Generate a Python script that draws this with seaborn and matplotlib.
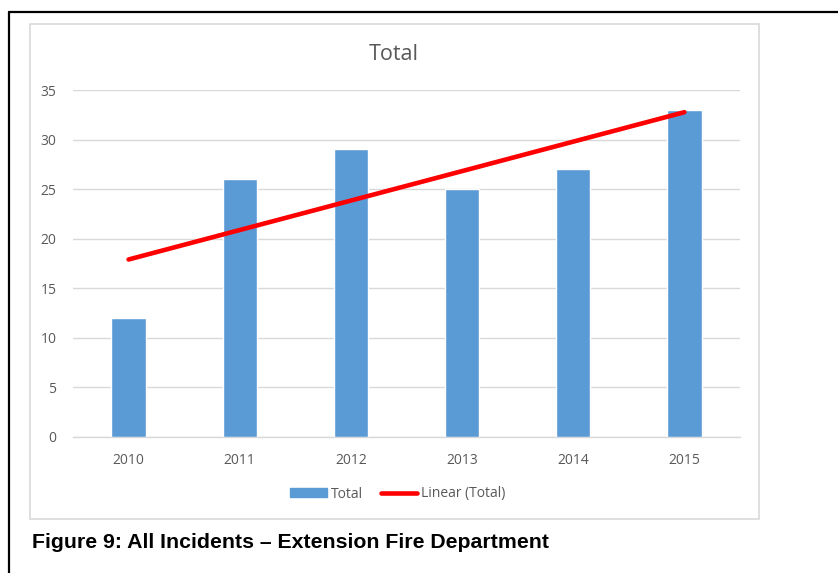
import numpy as np
import pandas as pd
import matplotlib
matplotlib.use("Agg")
import matplotlib.pyplot as plt
import matplotlib.patches as mpatches
from matplotlib.lines import Line2D
import seaborn as sns

years = ["2010", "2011", "2012", "2013", "2014", "2015"]
totals = [12, 26, 29, 25, 27, 33]
y_ticks = [0, 5, 10, 15, 20, 25, 30, 35]
title = "Total"
caption = "Figure 9: All Incidents \u2013 Extension Fire Department"
legend_labels = ["Total", "Linear (Total)"]

BAR = "#5B9BD5"
RED = "#FF0000"
GRID = "#D9D9D9"
TXT = "#595959"

sns.set_theme(style="white")
plt.rcParams["font.family"] = ["Open Sans", "DejaVu Sans"]

W, H = 838, 573
fig = plt.figure(figsize=(W / 100, H / 100), dpi=100)

def fx(px):
    return px / W

def fy(py):
    return 1 - py / H

# outer black border (top + left)
fig.add_artist(Line2D([fx(9), fx(838)], [fy(12), fy(12)], color="black", lw=1.6, transform=fig.transFigure))
fig.add_artist(Line2D([fx(9), fx(9)], [fy(12), fy(573)], color="black", lw=1.6, transform=fig.transFigure))
# chart area gray border
fig.add_artist(mpatches.Rectangle((fx(30), fy(519)), fx(759) - fx(30), fy(24) - fy(519),
                                  fill=False, edgecolor=GRID, lw=1.2, transform=fig.transFigure))

ax = fig.add_axes([fx(73), fy(437), fx(740) - fx(73), fy(90) - fy(437)])

df = pd.DataFrame({"year": years, "total": totals})
sns.barplot(data=df, x="year", y="total", color=BAR, saturation=1, width=0.31, ax=ax, zorder=3)

pos = np.arange(len(years))
slope, intercept = np.polyfit(pos + 1, np.array(totals, dtype=float), 1)
trend_x = [pos[0], pos[-1]]
trend_y = [slope * (pos[0] + 1) + intercept, slope * (pos[-1] + 1) + intercept]
sns.lineplot(x=trend_x, y=trend_y, color=RED, lw=3.3, ax=ax, zorder=4, solid_capstyle="round")

ax.set_xlim(-0.5, len(years) - 0.5)
ax.set_ylim(0, 35)
ax.set_yticks(y_ticks)
ax.set_yticklabels([str(v) for v in y_ticks])
ax.yaxis.grid(True, color=GRID, lw=1.0, zorder=0)
ax.set_axisbelow(True)
for s in ["top", "right", "left"]:
    ax.spines[s].set_visible(False)
ax.spines["bottom"].set_color(GRID)
ax.spines["bottom"].set_linewidth(1.0)
ax.tick_params(axis="both", length=0, colors=TXT, labelsize=10)
ax.tick_params(axis="y", pad=12)
ax.tick_params(axis="x", pad=11.5)
ax.set_xlabel("")
ax.set_ylabel("")
ax.set_facecolor("none")

fig.text(fx(394), fy(55), title, ha="center", va="center", fontsize=15.5, color=TXT)

handles = [mpatches.Patch(color=BAR), Line2D([0], [0], color=RED, lw=3.3, solid_capstyle="round")]
fig.legend(handles, legend_labels, loc="center", bbox_to_anchor=(fx(398), fy(494)), ncol=2,
           frameon=False, fontsize=10, labelcolor=TXT, handlelength=2.6, handletextpad=0.3,
           columnspacing=1.3, handleheight=0.6)

fig.text(fx(32), fy(542), caption, ha="left", va="center", fontsize=15.3, fontweight="bold",
         family=["Liberation Sans", "DejaVu Sans"], color="black")

fig.savefig("out.png", dpi=100)
